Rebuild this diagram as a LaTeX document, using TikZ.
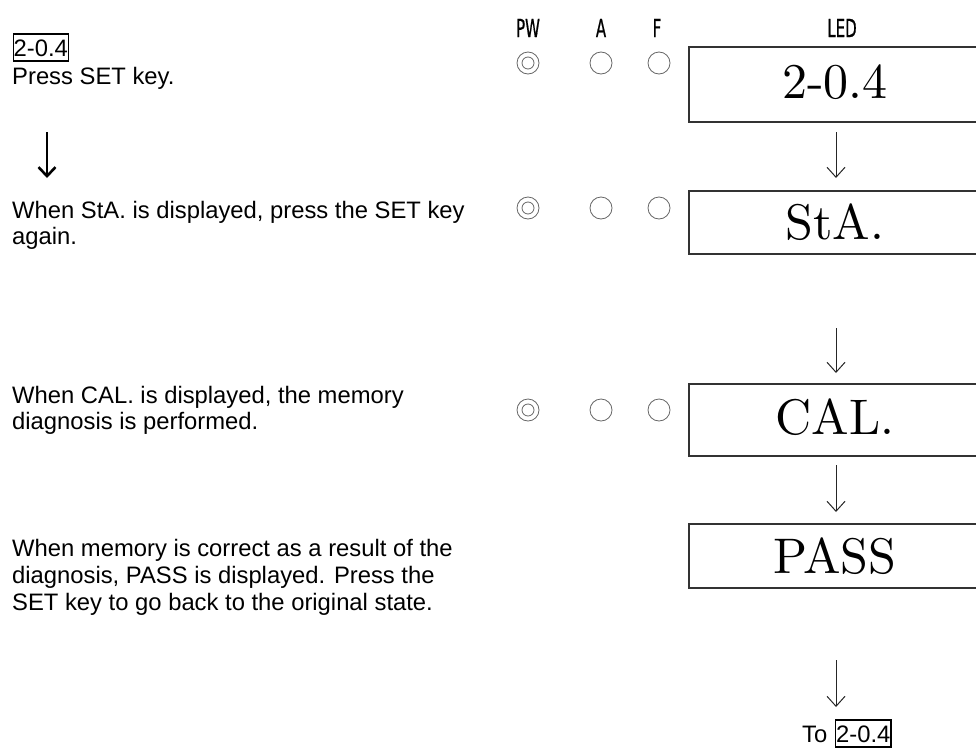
\documentclass[tikz,border=0pt]{standalone}
\usepackage{fontspec}
\setmainfont{Liberation Sans}
\newfontfamily\ledfont[Extension=.otf]{lmroman10-regular}
\newfontfamily\condfont[FakeStretch=0.6,FakeBold=0.6]{DejaVu Sans}
\usetikzlibrary{arrows.meta}
\definecolor{boxline}{HTML}{333333}
\definecolor{ledcirc}{HTML}{666666}
\tikzset{
  txt/.style={anchor=base west, inner sep=0pt, font=\fontsize{23.8}{28}\selectfont},
  hdr/.style={anchor=center, inner sep=0pt, font=\condfont\fontsize{25}{28}\selectfont},
  ledbox/.style={draw=boxline, line width=1.5pt, anchor=north west, inner sep=0pt},
  ledtxt/.style={anchor=center, inner sep=0pt, font=\ledfont\fontsize{50}{56}\selectfont},
  lamp/.style={draw=ledcirc, line width=0.8pt, circle, minimum size=22pt, inner sep=0pt},
  lampin/.style={draw=ledcirc, line width=0.8pt, circle, minimum size=12pt, inner sep=0pt},
  arr/.style={draw=black!85, line width=1pt, -{Straight Barb[length=10pt,width=18pt,line width=1pt]}},
  bigarr/.style={draw=black, line width=2.8pt, -{Straight Barb[length=9pt,width=17pt,line width=2.6pt]}},
  keybox/.style={draw=black, line width=1.3pt, inner xsep=0.5pt, inner ysep=0pt, text height=22pt, text depth=5pt, anchor=base west, font=\fontsize{23.8}{28}\selectfont}
}
\begin{document}
\begin{tikzpicture}[x=1pt,y=-1pt]
\clip (0,0) rectangle (976,747);
\fill[white] (0,0) rectangle (976,747);

% left column
\node[keybox] (k1) at (12.5,56) {2-0.4};
\node[txt] (l1) at (12,84) {Press SET key.};
\coordinate (la1) at (47,132);
\coordinate (la2) at (47,178);
\draw[bigarr] (la1) -- (la2);
\node[txt] (l2a) at (12,218) {When StA. is displayed, press the SET key};
\node[txt] (l2b) at (12,244) {again.};
\node[txt] (l3a) at (12,403) {When CAL. is displayed, the memory};
\node[txt] (l3b) at (12,429) {diagnosis is performed.};
\node[txt] (l4a) at (12,556) {When memory is correct as a result of the};
\node[txt] (l4b) at (12,583) {diagnosis, PASS is displayed. Press the};
\node[txt] (l4c) at (12,610) {SET key to go back to the original state.};

% headers
\node[hdr] (hpw) at (528,28) {PW};
\node[hdr] (ha) at (601,28) {A};
\node[hdr] (hf) at (657,28) {F};
\node[hdr] (hled) at (842,28) {LED};

% lamps
\foreach \r/\y in {1/63,2/208,3/410}{
  \node[lamp] (pw\r) at (528,\y) {};
  \node[lampin] (pwi\r) at (528,\y) {};
  \node[lamp] (a\r) at (601,\y) {};
  \node[lamp] (f\r) at (659,\y) {};
}

% LED boxes
\node[ledbox, minimum width=320pt, minimum height=75pt] (b1) at (688,46) {};
\node[ledtxt] (t1) at (835,82) {2-0.4};
\node[ledbox, minimum width=320pt, minimum height=63pt] (b2) at (688,190) {};
\node[ledtxt] (t2) at (835,222) {StA.};
\node[ledbox, minimum width=320pt, minimum height=72pt] (b3) at (688,383) {};
\node[ledtxt] (t3) at (835,417) {CAL.};
\node[ledbox, minimum width=320pt, minimum height=64pt] (b4) at (688,523) {};
\node[ledtxt] (t4) at (835,556) {PASS};

% arrows
\coordinate (r1s) at (836,132); \coordinate (r1e) at (836,178);
\coordinate (r2s) at (836,328); \coordinate (r2e) at (836,373);
\coordinate (r3s) at (836,465); \coordinate (r3e) at (836,512);
\coordinate (r4s) at (836,660); \coordinate (r4e) at (836,707);
\draw[arr] (r1s) -- (r1e);
\draw[arr] (r2s) -- (r2e);
\draw[arr] (r3s) -- (r3e);
\draw[arr] (r4s) -- (r4e);

% bottom
\node[txt] (to) at (802,742) {To};
\node[keybox] (k2) at (835,742) {2-0.4};
\end{tikzpicture}
\end{document}
